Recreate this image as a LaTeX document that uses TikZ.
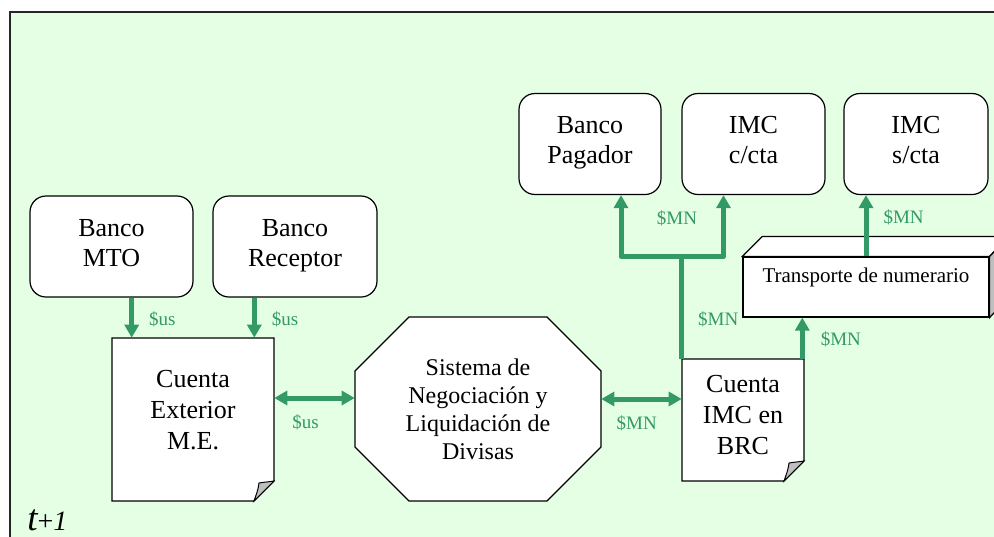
\documentclass[tikz,border=0pt]{standalone}
\usepackage{fontspec}
\setmainfont{Liberation Serif}
\usepackage{tikz}
\usetikzlibrary{calc,arrows.meta}
\definecolor{bggreen}{RGB}{228,255,228}
\definecolor{flowgreen}{RGB}{51,153,102}
\newcommand{\tikzDocNode}[6]{
  \coordinate (#1c) at (#2);
  \draw[fill=white,line width=1.2pt] ($(#1c)+(-#3/2,-#4/2)$) -- ++(#3,0) -- ++(0,#4-20) -- ++(-20,20) -- ++(20-#3,0) -- cycle;
  \filldraw[fill=black!25,line width=1pt] ($(#1c)+(#3/2,#4/2-20)$) .. controls +(-6,1) and +(6,-1) .. ++(-15,2) .. controls +(-1,8) and +(2,-6) .. ++(-5,18) -- cycle;
  \node[align=center,inner sep=0pt,font=\fontsize{26}{31}\selectfont,minimum width=#3pt,minimum height=#4pt,#5] (#1) at (#1c) {#6};
}

\begin{document}
\begin{tikzpicture}[x=1pt,y=-1pt,semithick,
  box/.style={draw,fill=white,line width=1.2pt,rounded corners=16pt,align=center,inner sep=0pt,minimum width=143pt,minimum height=101pt,text depth=8pt,font=\fontsize{26}{30}\selectfont},
  flow/.style={draw=flowgreen,line width=5pt,line join=round,-{Triangle[length=13pt,width=14pt]}},
  flow2/.style={flow,{Triangle[length=13pt,width=14pt]}-{Triangle[length=13pt,width=14pt]}},
  lbl/.style={text=flowgreen,inner sep=0pt,font=\fontsize{19}{19}\selectfont}]

  \useasboundingbox (0,0) rectangle (994,536);
  \draw[fill=bggreen,draw=black!85,line width=1.5pt] (10,12) rectangle (1010,560);

  %banks
  \node[box,minimum width=163pt] (mto) at (111.5,246.5) {Banco\\MTO};
  \node[box,minimum width=164pt] (receptor) at (295,246.5) {Banco\\Receptor};
  \node[box,minimum width=142pt] (pagador) at (590,144) {Banco\\Pagador};
  \node[box] (ccta) at (753.5,144) {IMC\\c/cta};
  \node[box,minimum width=144pt] (scta) at (916,144) {IMC\\s/cta};

  %accounts
  \tikzDocNode{exterior}{193,419.5}{162}{163}{text depth=20pt}{Cuenta\\Exterior\\M.E.}
  \tikzDocNode{brc}{743,420}{122}{122}{text depth=11pt}{Cuenta\\IMC en\\BRC}

  %sistema
  \coordinate (sistemac) at (478,409);
  \draw[fill=white,line width=1.2pt] ($(sistemac)+(-69,-92)$) -- ++(138,0) -- ++(54,54) -- ++(0,76) -- ++(-54,54) -- ++(-138,0) -- ++(-54,-54) -- ++(0,-76) -- cycle;
  \node[minimum width=246pt,minimum height=184pt,inner sep=0pt,align=center,font=\fontsize{24}{28}\selectfont] (sistema) at (sistemac) {Sistema de\\Negociación y\\Liquidación de\\Divisas};

  %transporte
  \node[draw,fill=white,line width=1.2pt,minimum width=246pt,minimum height=60pt,inner sep=0pt,text height=14pt,text depth=24pt,font=\fontsize{21}{21}\selectfont] (transporte) at (866,287) {Transporte de numerario};
  \draw[fill=white,line width=1.2pt] (transporte.north west) -- ++(20,-20) -- ++(246,0) -- (transporte.north east) -- cycle;
  \draw[fill=black!25,line width=1.2pt] (transporte.north east) -- ++(20,-20) -- ++(0,60) -- (transporte.south east) -- cycle;

  %dollars
  \coordinate (extin1) at ([xshift=20pt]exterior.north west);
  \coordinate (extin2) at ([xshift=-20pt]exterior.north east);
  \draw[flow] (mto.south -| extin1) -- node[lbl,right=15pt,pos=0.54] {\$us} (extin1);
  \draw[flow] (receptor.south -| extin2) -- node[lbl,right=15pt,pos=0.54] {\$us} (extin2);
  \coordinate (sleft) at ([yshift=11pt]sistema.west);
  \draw[flow2] (exterior.east |- sleft) -- node[lbl,below=14pt,pos=0.39] {\$us} (sleft);

  %pesos
  \coordinate (sright) at ([yshift=10pt]sistema.east);
  \draw[flow2] (sright) -- node[lbl,below=14pt,pos=0.44] {\$MN} (sright -| brc.west);
  \coordinate (split) at ($(brc.north west)+(0,-102)$);
  \draw[flow,-] (brc.north west) -- node[lbl,right=14pt,pos=0.39] {\$MN} (split);
  \draw[flow] (split) -| ([xshift=31pt]pagador.south);
  \draw[flow] (split) -| node[lbl,left=24pt,pos=0.81] {\$MN} ([xshift=-30pt]ccta.south);
  \coordinate (brcout) at ([xshift=-2pt]brc.north east);
  \draw[flow] (brcout) -- node[lbl,right=16pt,pos=0.48] {\$MN} (brcout |- transporte.south);
  \draw[flow] (transporte.north) -- node[lbl,right=15pt,pos=0.63] {\$MN} (transporte.north |- scta.south);

  \node[anchor=base west,inner sep=0pt,text depth=0pt] (tiempo) at (27,530) {\fontsize{37}{37}\selectfont\itshape t\fontsize{28}{28}\selectfont\upshape+\itshape 1};
\end{tikzpicture}
\end{document}
